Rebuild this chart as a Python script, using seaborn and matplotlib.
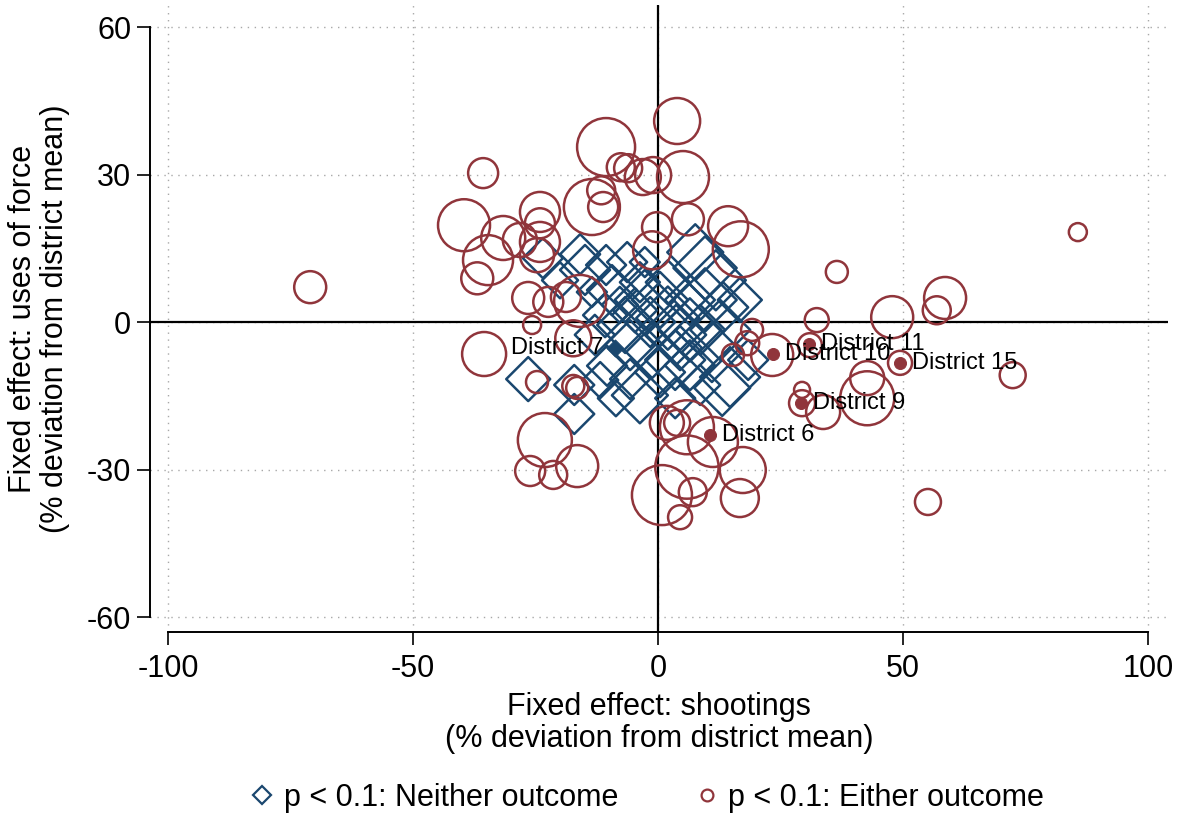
import numpy as np
import pandas as pd
import matplotlib
matplotlib.use("Agg")
import matplotlib.pyplot as plt
from matplotlib.lines import Line2D
import seaborn as sns

# Districts where neither outcome is significant (blue diamonds)
neither_x = [-26.5, -17.1, -17.1, -23.5, -15.9, -10.6, -6.3, -9.4, -3.7, 0.4,
             9.6, 11.8, 13.3, 6.5, 8.6, 3.7, -1.2, -5.7, -10.4, -3.7,
             0.4, 6.5, 11.0, 14.7, 13.1, 18.4, 8.6, -1.6, -4.7, 2.0,
             -7.8, -12.9, -11.8, 4.5, -2.7, -20.0, -13.5, 7.6, 16.7, -5.7,
             -8.6, 3.5, -2.7, 2.0, -6.7, 6.5, 3.5, -10.8, -14.9, 12.7,
             9.6]
neither_y = [-11.6, -12.8, -18.7, 13.0, 13.8, 11.6, 12.2, 6.5, 8.1, 4.5,
             11.0, 8.5, 3.0, 4.5, -1.6, -2.6, -5.7, -4.7, -8.9, -14.9,
             -10.2, -8.8, -6.1, -11.2, -13.4, -7.7, -12.8, 0.0, 2.4, 8.1,
             3.5, -2.6, -11.8, -5.3, 12.2, 8.5, 6.1, 14.2, 4.5, -11.6,
             -15.5, -15.5, 4.5, 0.8, -0.6, -1.6, -7.7, 1.4, 10.6, -1.6,
             4.5]
neither_w = [4.84, 4.0, 4.0, 4.0, 4.0, 4.0, 4.0, 6.25, 4.0, 7.84,
             10.89, 9.0, 6.25, 6.25, 6.25, 9.0, 7.84, 6.25, 4.0, 7.84,
             6.25, 6.25, 9.0, 9.0, 7.84, 4.0, 4.0, 6.25, 4.84, 4.84,
             3.24, 4.0, 3.24, 4.84, 2.25, 3.24, 2.25, 7.84, 4.84, 4.0,
             3.24, 4.0, 9.0, 10.24, 7.84, 12.25, 9.0, 4.84, 6.25, 9.0,
             12.25]

# Districts where either outcome is significant (red circles)
either_x = [-71.0, -35.7, -10.6, 3.9, -7.6, -6.1, -3.1, -1.0, 5.1, -11.6,
            -11.2, -13.5, -39.6, -31.6, -24.1, -24.1, -24.1, -28.2, -34.7, -36.9,
            -24.7, -0.2, -1.2, 6.1, 14.3, 16.9, -26.5, -22.4, -18.8, -15.9,
            -25.7, -35.5, -17.3, -24.7, -17.3, -16.5, -23.1, -26.1, -21.4, -16.5,
            1.8, 3.9, 5.9, 11.2, 5.9, 0.8, 7.1, 17.3, 16.7, 4.5,
            55.1, 85.7, 36.5, 58.6, 56.9, 47.8, 32.4, 31.0, 49.4, 72.4,
            42.7, 42.7, 33.7, 29.4, 29.4, 23.3, 19.2, 15.3, 18.2]
either_y = [7.1, 30.3, 35.6, 40.9, 31.5, 31.3, 29.5, 29.9, 29.5, 26.8,
            23.4, 23.4, 19.7, 17.1, 22.4, 20.1, 16.3, 16.7, 12.6, 8.9,
            13.6, 19.3, 14.6, 20.9, 19.5, 14.8, 4.9, 4.1, 5.1, 4.3,
            -0.6, -6.5, -3.3, -12.2, -13.0, -13.4, -24.0, -30.3, -31.1, -29.3,
            -20.5, -20.5, -21.4, -24.4, -29.5, -35.2, -34.6, -30.1, -35.8, -39.7,
            -36.6, 18.3, 10.2, 4.9, 2.4, 1.0, 0.4, -4.7, -8.3, -10.8,
            -11.4, -15.5, -18.3, -13.8, -16.5, -6.7, -1.6, -6.7, -4.3]
either_w = [2.56, 2.25, 8.41, 5.29, 1.96, 1.96, 3.24, 3.24, 6.76, 1.96,
            2.25, 7.84, 6.76, 4.84, 4.0, 2.25, 4.0, 2.89, 6.25, 2.56,
            2.89, 2.25, 3.61, 2.56, 4.0, 7.84, 2.56, 2.25, 2.25, 6.76,
            0.81, 4.84, 3.24, 1.21, 1.21, 1.21, 7.29, 2.25, 1.96, 4.41,
            2.89, 1.69, 7.29, 6.25, 10.89, 9.0, 1.96, 5.29, 3.61, 1.44,
            1.69, 0.81, 1.21, 4.41, 1.96, 4.41, 1.44, 1.44, 1.44, 1.69,
            2.89, 7.29, 2.89, 0.64, 1.69, 4.41, 1.21, 1.21, 1.44]

# Labelled districts
lab_names = ["District 7", "District 11", "District 10", "District 15", "District 9", "District 6"]
lab_x = [-8.8, 30.8, 23.5, 49.4, 29.2, 10.6]
lab_y = [-5.3, -4.5, -6.5, -8.3, -16.5, -23.0]
lab_group = ["neither", "either", "either", "either", "either", "either"]

navy = "#1a476f"
cranberry = "#90353b"

neither = pd.DataFrame({"x": neither_x, "y": neither_y, "w": neither_w})
either = pd.DataFrame({"x": either_x, "y": either_y, "w": either_w})
labels = pd.DataFrame({"name": lab_names, "x": lab_x, "y": lab_y, "group": lab_group})

sns.set_style("white")
plt.rcParams["font.family"] = ["Liberation Sans", "DejaVu Sans"]
plt.rcParams["text.color"] = "black"
plt.rcParams["axes.labelcolor"] = "black"
plt.rcParams["xtick.color"] = "black"
plt.rcParams["ytick.color"] = "black"

fig = plt.figure(figsize=(11.82, 8.17), dpi=100)
ax = fig.add_axes([150 / 1182, 1 - 632 / 817, 1018 / 1182, 627 / 817])

ax.axhline(0, color="black", lw=1.6, zorder=1)
ax.axvline(0, color="black", lw=1.6, zorder=1)

# bubble area proportional to weight
sns.scatterplot(data=neither, x="x", y="y", size="w", sizes=(0, 1036), size_norm=(0, 10),
                marker="D", facecolor="none", edgecolor=navy, linewidth=1.8,
                legend=False, ax=ax, zorder=3)
sns.scatterplot(data=either, x="x", y="y", size="w", sizes=(0, 2073), size_norm=(0, 10),
                marker="o", facecolor="none", edgecolor=cranberry, linewidth=1.8,
                legend=False, ax=ax, zorder=4)

lab_n = labels[labels["group"] == "neither"]
lab_e = labels[labels["group"] == "either"]
sns.scatterplot(data=lab_n, x="x", y="y", marker="D", s=75, color=navy,
                edgecolor=navy, legend=False, ax=ax, zorder=5)
sns.scatterplot(data=lab_e, x="x", y="y", marker="o", s=75, color=cranberry,
                edgecolor=cranberry, legend=False, ax=ax, zorder=5)
for _, r in labels.iterrows():
    if r["group"] == "neither":
        ax.text(r["x"] - 2.3, r["y"], r["name"], ha="right", va="center", fontsize=17, zorder=6)
    else:
        ax.text(r["x"] + 2.5, r["y"], r["name"], ha="left", va="center", fontsize=17, zorder=6)

ax.set_xlim(-103.7, 104.1)
ax.set_ylim(-63.05, 64.5)
ax.set_xticks([-100, -50, 0, 50, 100])
ax.set_yticks([-60, -30, 0, 30, 60])
ax.set_xticklabels(["-100", "-50", "0", "50", "100"])
ax.set_yticklabels(["-60", "-30", "0", "30", "60"])
ax.grid(True, color="#a8a8a8", linestyle=(0, (1, 4)), linewidth=1.0)
ax.set_axisbelow(True)

for s in ["top", "right"]:
    ax.spines[s].set_visible(False)
ax.spines["left"].set_bounds(-60, 60)
ax.spines["bottom"].set_bounds(-100, 100)
for s in ["left", "bottom"]:
    ax.spines[s].set_linewidth(1.4)
    ax.spines[s].set_color("black")
ax.tick_params(axis="both", direction="out", length=9.5, width=1.2, color="black",
               labelsize=22, left=True, bottom=True, labelcolor="black")
ax.tick_params(axis="x", pad=6)
ax.tick_params(axis="y", pad=4)

ax.set_xlabel("Fixed effect: shootings\n(% deviation from district mean)", fontsize=22,
              labelpad=6, linespacing=1.1)
ax.set_ylabel("Fixed effect: uses of force\n(% deviation from district mean)", fontsize=22,
              labelpad=12, linespacing=1.1)

handles = [
    Line2D([], [], marker="D", linestyle="none", markersize=9, markerfacecolor="none",
           markeredgecolor=navy, markeredgewidth=1.6, label="p < 0.1: Neither outcome"),
    Line2D([], [], marker="o", linestyle="none", markersize=8.5, markerfacecolor="none",
           markeredgecolor=cranberry, markeredgewidth=1.6, label="p < 0.1: Either outcome"),
]
fig.legend(handles=handles, loc="center", bbox_to_anchor=(647 / 1182, 1 - 798 / 817),
           ncol=2, frameon=False, fontsize=22, handlelength=0.8, handletextpad=0.3,
           columnspacing=2.5)

fig.savefig("out.png", dpi=100)
